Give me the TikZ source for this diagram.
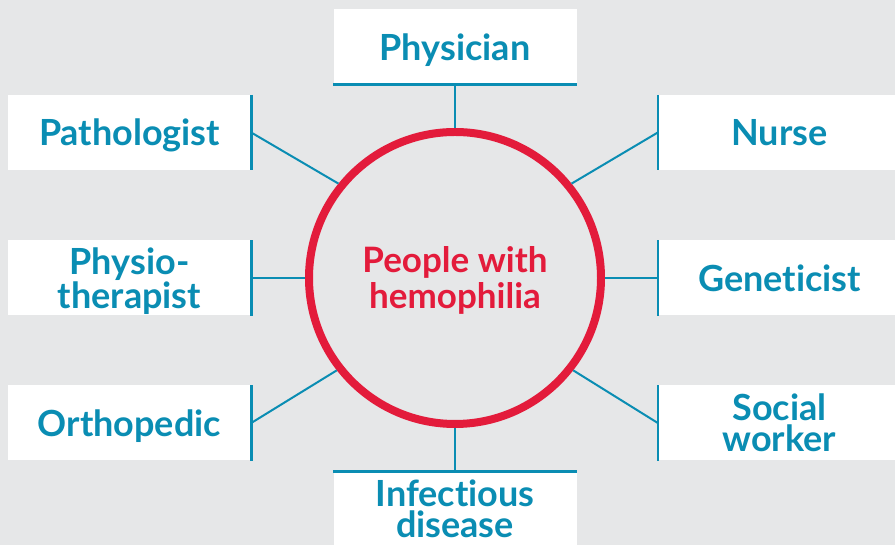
\documentclass[tikz,border=0pt]{standalone}
\usepackage{fontspec}
\setmainfont{Lato}[Ligatures={CommonOff,RareOff}]
\usetikzlibrary{shapes}
\definecolor{CareTeal}{HTML}{0A8DB3}
\definecolor{HemoRed}{HTML}{E31B3B}
\definecolor{PageGrey}{HTML}{E6E7E8}
\tikzstyle{RoleNode}=[rectangle, fill=white, inner sep=0pt, minimum width=243pt, minimum height=75pt, align=center, text depth=0pt, text=CareTeal, font=\fontsize{36}{31}\selectfont\bfseries]
\tikzstyle{HubNode}=[circle, draw=HemoRed, line width=8pt, minimum size=292pt, inner sep=0pt, align=center, text depth=0pt, text=HemoRed, font=\fontsize{35}{36}\selectfont\bfseries]
\tikzstyle{Spoke}=[draw=CareTeal, line width=2pt]
\tikzstyle{SideBar}=[Spoke, line width=2.6pt]

\begin{document}
\begin{tikzpicture}[x=1pt, y=1pt]
\fill[PageGrey](0,0) rectangle (895,545);
\clip(0,0) rectangle (895,545);
\node[HubNode](Hub) at (455,267) {People with\\hemophilia};
\node[RoleNode](Physician) at (455,498) {Physician};
\node[RoleNode](Infectious) at (455,36) {Infectious\\disease};
\node[RoleNode](Pathologist) at (129.5,412.5) {Pathologist};
\node[RoleNode](Physio) at (129.5,267) {Physio-\\therapist};
\node[RoleNode](Ortho) at (129.5,122) {Orthopedic};
\node[RoleNode](Nurse) at (779.5,412.5) {Nurse};
\node[RoleNode](Genet) at (779.5,267) {Geneticist};
\node[RoleNode](Social) at (779.5,122) {Social\\worker};

\draw[SideBar](Physician.south west) -- (Physician.south east);
\draw[SideBar](Infectious.north west) -- (Infectious.north east);
\draw[SideBar](Pathologist.north east) -- (Pathologist.south east);
\draw[SideBar](Physio.north east) -- (Physio.south east);
\draw[SideBar](Ortho.north east) -- (Ortho.south east);
\draw[SideBar](Nurse.north west) -- (Nurse.south west);
\draw[SideBar](Genet.north west) -- (Genet.south west);
\draw[SideBar](Social.north west) -- (Social.south west);

\draw[Spoke](Physician.south) -- (Hub.north);
\draw[Spoke](Infectious.north) -- (Hub.south);
\draw[Spoke](Pathologist.east) -- (Hub.141);
\draw[Spoke](Physio.east) -- (Hub.west);
\draw[Spoke](Ortho.east) -- (Hub.218);
\draw[Spoke](Nurse.west) -- (Hub.39);
\draw[Spoke](Genet.west) -- (Hub.east);
\draw[Spoke](Social.west) -- (Hub.322);
\end{tikzpicture}
\end{document}
